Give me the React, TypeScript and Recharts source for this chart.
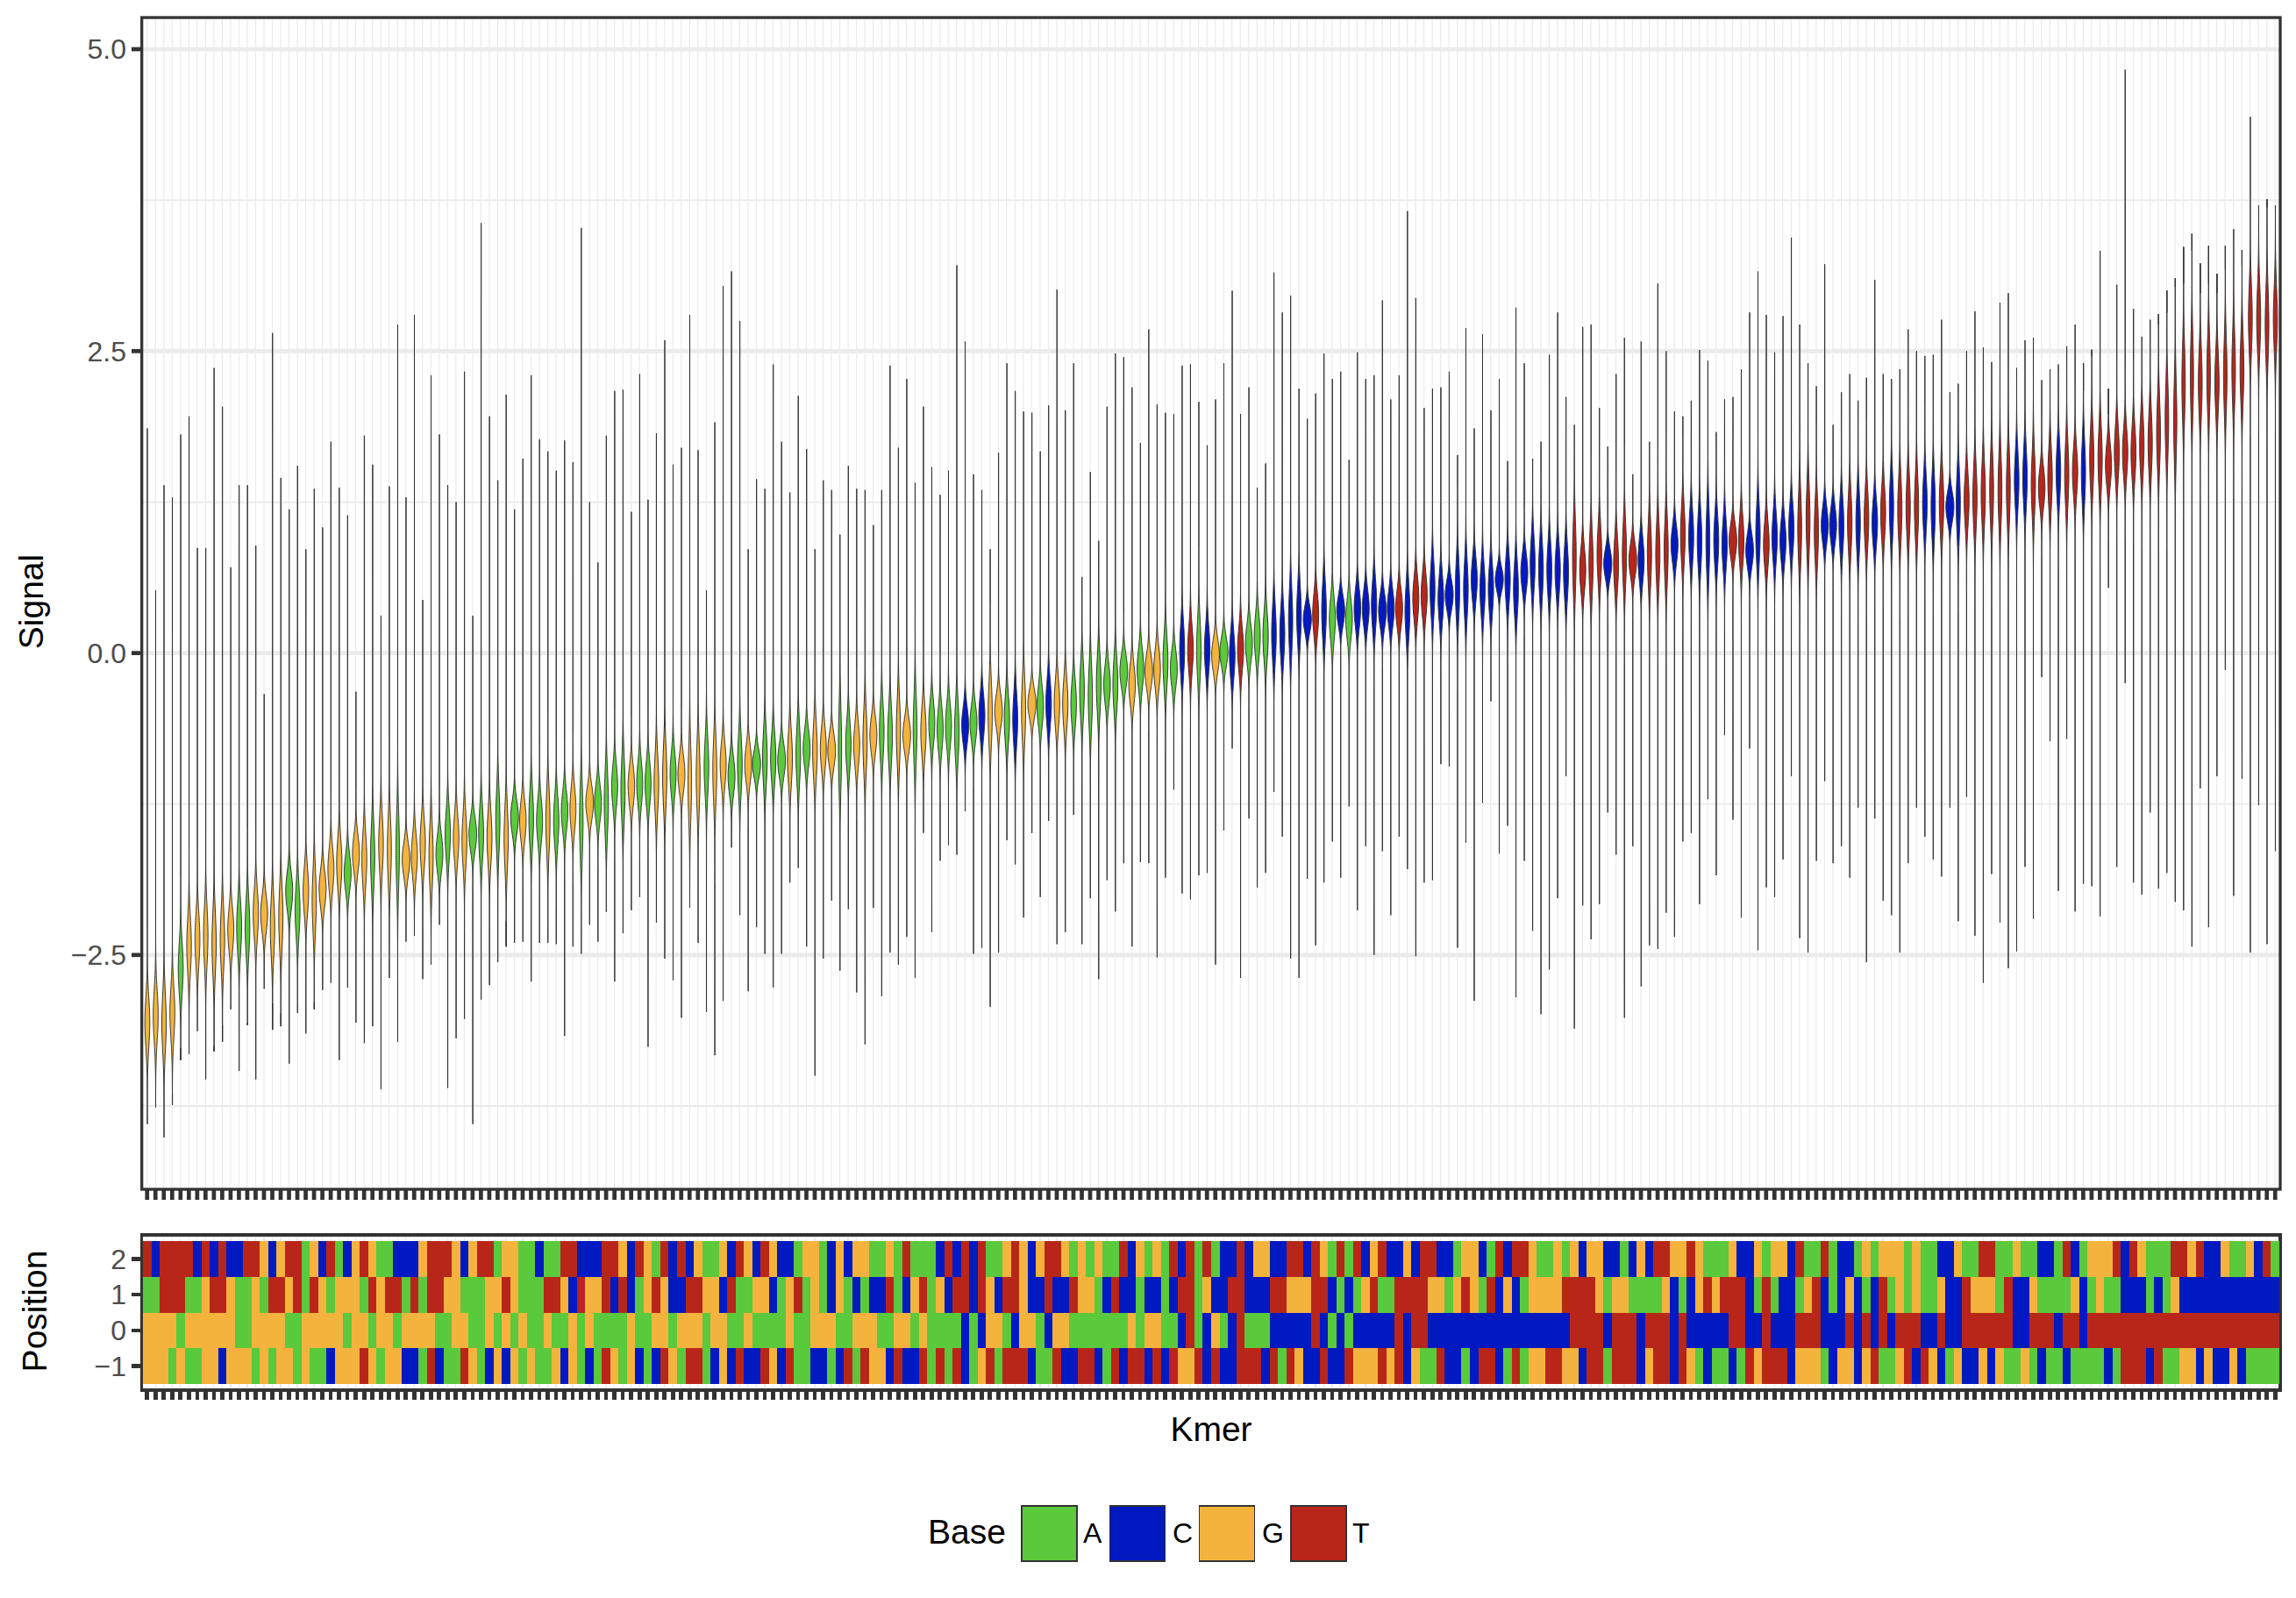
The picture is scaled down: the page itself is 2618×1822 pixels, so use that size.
import { ComposedChart, Bar, Cell, XAxis, YAxis, CartesianGrid } from 'recharts';

// base at each kmer for the four positions, grouped in runs to make them easier to read
const POS_2 = (
  'T C TTTT C T C T CC TT G C G TT A G C T A C G T G AA CCC G TTT G C G TT A GG AA C AA TT CCC TT G C T G ' +
  'A T C T C G AA G C T G C T G CC A GG A C G C GG AA G A T AAA C T C T C T AA G T G C G TT G A G A G AA T C G A G A T ' +
  'C T A T A CC T C GG CC TT C T G A T A T C G T CC G C TT CC A GG C A T C TT G AA G A G C GG CC A C G C TT GG T G AAA G ' +
  'CC G A GG C T AA T A CC A G A GGG A G AA CC G AA TT AA G AA CC A T C A GGG T C T G AAA TT G T CC G AA G C T A'
).replace(/ /g, '');
const POS_1 = (
  'AA TTT AA G TT G AA G A TT G T A T G A GGG A T G TT A T A TT GG AAA GG T G AAA TT G C T GG T C T C A G ' +
  'T G CC TT GG C T AA GG C A G T A G A C G A C A CC T A C G T A G C TT C T G C TT G CC T CC T GG A C T CC A CC A C ' +
  'TT A G CC TT CCC TT GGG TT C A C A G T AA TTTT GG A G T G A T C G C A GGGG TTTT G A GG AAAA G C A C G T G TT ' +
  'T C A T A CC A G T C A C G C A C T A G A G AA G CC T GGG A T CC G AAAA G C A G AA CCC A C A G CCCCCCCCCCCC'
).replace(/ /g, '');
const POS_0 = (
  'GGGG A GGGGGG AA GGGG AA GGGGG A GG A GG A GGGG AA GG AA G A G A G AA G AA G A G AAAA G AA ' +
  'GG A GGG A GG AA G AAAA G AA GGG AA GGG AA GG A G AAAA C A C GG A C GG A C GG AAAAAAA G A GG AA ' +
  'C T A C G A C T AAA CCCCC T C A C A CCCCC T C TT CCCCCCCCCCCCCCCCC TTTT C TTT C TTT C T CCCCC T ' +
  'T CC T CCC TTT CCC T C T C T C TTT CC T CC TTTTTT CC TTT C TT C ' +
  'TTTTTTTTTTTTTTTTTTTTTTT'
).replace(/ /g, '');
const POS_M1 = (
  'GGG A G AA GG C GGG A G A GG A G AA C GGG T G A GG CC A T C AA T G A C G C G A G AA G C G A C A T G A G C A ' +
  'C T G A TT A C G C T CC T G C T AA CC A C T A T GG C T CC T A T A T C A G T A TTT C AA T CC TT C A T C TT C T C T ' +
  'GG T C T CC TTT C T A T G CC T CC T GGG T G T C G AA T CC A C TT C A T A GG TT GG C TT A TTT C G TT C T G A C AA C ' +
  'A T G TTT C GGG A C GG C G T AA G T C T G C A G CC G C G AA G A C AA C AAAA C A TTT C T AA GG C G CC G C AAAA'
).replace(/ /g, '');

const SIGNAL_MAX = [
  1.86, 0.52, 1.39, 1.29, 1.81, 1.96, 0.87, 0.87, 2.36, 2.04,
  0.71, 1.39, 1.39, 0.89, -0.34, 2.65, 1.45, 1.19, 1.55, 0.86,
  1.36, 1.04, 1.75, 1.37, 1.14, -0.32, 1.80, 1.56, 0.31, 1.38,
  2.72, 1.29, 2.80, 0.44, 2.30, 1.81, 1.39, 1.25, 2.33, 0.31,
  3.56, 1.96, 1.43, 2.14, 1.19, 1.61, 2.30, 1.77, 1.67, 1.51,
  1.76, 1.58, 3.52, 1.25, 0.75, 1.80, 2.17, 2.18, 1.17, 2.31,
  1.27, 1.82, 2.59, 1.56, 1.70, 2.80, 1.68, 0.52, 1.91, 3.04,
  3.16, 2.75, 0.86, 1.44, 1.36, 2.39, 1.75, 1.33, 2.13, 1.69,
  0.86, 1.43, 1.35, 0.98, 1.55, 1.36, 1.35, 1.06, 1.35, 2.38,
  1.70, 2.27, 1.41, 2.04, 1.54, 1.31, 1.51, 3.21, 2.58, 1.48,
  1.35, 0.86, 1.66, 2.40, 2.17, 2.00, 1.99, 1.67, 2.05, 3.01,
  2.01, 2.40, 0.63, 1.50, 0.93, 2.04, 2.48, 2.45, 2.20, 1.74,
  2.68, 2.06, 1.99, 1.98, 2.38, 2.39, 2.08, 1.72, 2.10, 2.40,
  3.00, 1.98, 2.20, 1.37, 1.57, 3.15, 2.82, 2.96, 2.19, 1.94,
  2.15, 2.48, 2.27, 2.33, 1.60, 2.49, 2.27, 2.30, 2.92, 2.10,
  2.30, 3.66, 2.94, 2.03, 2.19, 2.20, 2.33, 1.64, 2.69, 1.86,
  2.64, 2.01, 2.27, 1.59, 2.86, 2.40, 1.61, 1.75, 2.47, 2.82,
  2.12, 1.89, 2.70, 2.72, 2.03, 1.71, 2.31, 2.61, 1.48, 2.58,
  1.75, 3.06, 2.50, 2.00, 1.96, 2.09, 2.51, 2.42, 1.83, 2.10,
  2.12, 2.35, 2.82, 3.16, 2.80, 2.49, 2.79, 3.44, 2.72, 2.40,
  2.21, 3.22, 1.89, 2.16, 2.31, 2.09, 2.28, 3.09, 2.31, 2.27,
  2.35, 2.68, 2.50, 2.46, 2.47, 2.76, 2.16, 2.23, 2.50, 2.83,
  2.53, 2.41, 2.90, 2.98, 2.36, 2.59, 2.61, 2.26, 2.35, 2.39,
  2.54, 2.72, 2.17, 2.46, 3.33, 1.98, 3.05, 4.83, 2.85, 2.62,
  2.76, 2.72, 2.82, 3.03, 3.06, 3.33, 2.98, 3.06, 2.98, 3.18,
  3.51, 3.20, 4.44, 3.70, 3.69, 3.66,
];

const SIGNAL_MIN = [
  -3.90, -3.74, -4.01, -3.65, -3.27, -3.32, -3.13, -3.53, -3.25, -3.08,
  -2.95, -3.46, -3.06, -3.53, -2.78, -2.90, -2.98, -3.40, -2.98, -3.15,
  -2.89, -2.79, -2.73, -3.37, -2.77, -3.06, -3.23, -3.09, -3.61, -2.69,
  -3.22, -2.39, -2.34, -2.70, -2.56, -2.25, -3.60, -3.19, -3.03, -3.90,
  -2.87, -2.75, -2.56, -2.22, -2.40, -2.39, -2.72, -2.40, -2.40, -2.41,
  -3.17, -2.43, -2.49, -2.25, -2.39, -2.13, -2.72, -2.32, -2.13, -2.02,
  -3.26, -2.23, -2.53, -2.71, -3.02, -2.10, -2.40, -2.97, -3.33, -2.88,
  -1.61, -2.17, -2.80, -2.27, -2.49, -2.77, -2.49, -1.90, -1.78, -2.43,
  -3.50, -2.53, -2.05, -2.63, -2.12, -2.81, -3.24, -2.11, -2.84, -2.48,
  -2.58, -2.35, -2.69, -1.49, -2.31, -1.72, -1.59, -1.67, -1.31, -2.49,
  -2.44, -2.93, -2.48, -1.55, -1.75, -2.19, -1.49, -2.02, -1.39, -2.41,
  -2.31, -1.34, -2.41, -2.03, -2.70, -1.88, -2.14, -1.74, -2.43, -1.73,
  -1.74, -2.52, -1.86, -1.13, -1.99, -2.04, -1.84, -1.82, -2.58, -1.47,
  -0.79, -2.69, -1.37, -1.94, -1.82, -1.15, -1.52, -2.53, -2.69, -1.87,
  -2.42, -1.90, -1.56, -1.86, -1.27, -2.13, -1.60, -2.50, -1.64, -2.17,
  -1.52, -1.79, -2.51, -1.90, -1.88, -0.92, -0.94, -2.44, -1.57, -2.88,
  -1.24, -0.40, -1.66, -1.43, -2.85, -1.72, -2.30, -2.99, -2.62, -2.03,
  -1.02, -3.11, -2.09, -2.37, -2.08, -1.32, -1.67, -3.02, -1.60, -2.76,
  -2.42, -2.45, -2.15, -2.35, -1.56, -1.49, -2.08, -1.21, -1.84, -0.68,
  -1.38, -2.19, -0.79, -2.46, -1.94, -2.02, -1.71, -1.02, -2.36, -2.48,
  -1.72, -1.06, -1.74, -1.60, -1.86, -1.28, -2.56, -1.37, -2.05, -2.17,
  -2.48, -1.74, -1.28, -1.52, -1.71, -1.85, -1.28, -2.22, -1.19, -2.34,
  -2.73, -1.83, -2.23, -2.61, -2.47, -1.77, -2.20, -0.20, -0.73, -1.97,
  -0.71, -2.14, -1.91, -1.93, -2.18, 0.54, -1.77, -0.25, -1.90, -2.00,
  -1.32, -1.95, -1.82, -2.06, -2.13, -2.43, -1.12, -2.27, -1.02, -0.14,
  -2.01, -1.04, -2.48, -1.26, -2.41, -1.64,
];

const SIGNAL_MID = [
  -3.06, -3.00, -3.06, -2.98, -2.61, -2.42, -2.37, -2.34, -2.40, -2.37,
  -2.29, -2.27, -2.27, -2.16, -2.16, -2.27, -2.19, -1.97, -2.13, -1.97,
  -2.05, -1.95, -1.79, -1.74, -1.82, -1.66, -1.71, -1.68, -1.58, -1.63,
  -1.63, -1.71, -1.68, -1.58, -1.68, -1.66, -1.50, -1.53, -1.55, -1.50,
  -1.50, -1.53, -1.39, -1.53, -1.36, -1.39, -1.37, -1.39, -1.39, -1.39,
  -1.31, -1.29, -1.39, -1.24, -1.24, -1.24, -1.10, -1.13, -1.10, -1.08,
  -1.08, -1.08, -1.02, -1.00, -1.00, -1.08, -1.02, -0.94, -0.97, -0.92,
  -1.02, -0.92, -0.92, -0.92, -0.87, -0.87, -0.89, -0.87, -0.84, -0.79,
  -0.81, -0.79, -0.81, -0.79, -0.76, -0.76, -0.73, -0.68, -0.65, -0.68,
  -0.65, -0.68, -0.63, -0.65, -0.58, -0.63, -0.60, -0.65, -0.60, -0.58,
  -0.52, -0.50, -0.48, -0.55, -0.55, -0.47, -0.42, -0.44, -0.42, -0.42,
  -0.42, -0.42, -0.31, -0.36, -0.26, -0.26, -0.26, -0.15, -0.26, -0.13,
  -0.15, -0.13, -0.07, -0.13, 0.03, 0.03, 0.03, 0.03, -0.02, 0.01,
  -0.02, 0.03, 0.08, 0.14, 0.14, 0.16, 0.16, 0.27, 0.32, 0.28,
  0.32, 0.35, 0.28, 0.35, 0.28, 0.37, 0.37, 0.40, 0.35, 0.37,
  0.37, 0.35, 0.45, 0.48, 0.53, 0.45, 0.48, 0.53, 0.53, 0.61,
  0.53, 0.53, 0.61, 0.61, 0.53, 0.67, 0.74, 0.69, 0.69, 0.69,
  0.67, 0.80, 0.69, 0.74, 0.82, 0.74, 0.74, 0.82, 0.77, 0.77,
  0.82, 0.82, 0.85, 0.90, 0.98, 0.96, 0.93, 0.93, 0.93, 0.90,
  0.93, 0.93, 0.85, 0.98, 0.90, 0.96, 0.93, 1.03, 1.03, 1.11,
  1.01, 1.06, 1.06, 1.06, 1.08, 1.08, 1.11, 1.08, 1.16, 1.21,
  1.19, 1.21, 1.21, 1.24, 1.21, 1.24, 1.21, 1.24, 1.27, 1.29,
  1.32, 1.35, 1.35, 1.37, 1.43, 1.45, 1.40, 1.37, 1.45, 1.50,
  1.48, 1.50, 1.50, 1.61, 1.61, 1.56, 1.66, 1.66, 1.66, 1.72,
  1.74, 1.82, 1.93, 1.93, 2.24, 2.30, 2.24, 2.30, 2.24, 2.30,
  2.35, 2.35, 2.77, 2.77, 2.72, 2.77,
];

// half height of the visible violin body
const BODY_SPREAD = [
  .45, .45, .50, .45, .45, .48, .45, .50, .53, .50,
  .37, .45, .48, .42, .32, .50, .53, .32, .45, .40,
  .53, .32, .37, .42, .32, .32, .45, .53, .48, .55,
  .63, .29, .37, .42, .53, .32, .42, .40, .45, .29,
  .45, .45, .53, .53, .29, .34, .48, .37, .53, .42,
  .34, .37, .63, .29, .32, .53, .37, .53, .34, .37,
  .37, .48, .53, .37, .32, .61, .58, .48, .55, .37,
  .32, .48, .32, .24, .48, .42, .29, .45, .48, .32,
  .48, .37, .29, .69, .42, .37, .53, .32, .48, .48,
  .53, .29, .58, .42, .37, .37, .37, .48, .32, .32,
  .37, .53, .29, .42, .45, .53, .26, .34, .40, .40,
  .42, .40, .48, .53, .48, .34, .45, .29, .34, .34,
  .29, .34, .45, .32, .45, .40, .50, .40, .29, .26,
  .40, .37, .32, .37, .42, .48, .45, .53, .48, .24,
  .37, .48, .37, .26, .34, .34, .32, .42, .29, .32,
  .32, .45, .37, .37, .45, .40, .26, .50, .48, .37,
  .42, .42, .21, .42, .45, .32, .45, .48, .45, .42,
  .45, .61, .37, .53, .48, .26, .45, .53, .29, .37,
  .53, .53, .55, .32, .48, .45, .48, .58, .45, .42,
  .29, .42, .29, .50, .40, .42, .37, .42, .58, .58,
  .53, .32, .32, .45, .50, .50, .48, .40, .45, .53,
  .53, .53, .53, .48, .53, .50, .26, .53, .45, .53,
  .53, .58, .58, .58, .48, .50, .53, .34, .50, .48,
  .53, .42, .53, .53, .53, .37, .45, .42, .45, .50,
  .53, .58, .63, .69, .66, .69, .58, .63, .53, .63,
  .63, .58, .58, .55, .61, .55,
];

const POSITION_LABELS = ['\u22121', '0', '1', '2'];
const BASES = ['A', 'C', 'G', 'T'];
const BASE_COLORS: Record<string, string> = { A: '#5AC93B', C: '#0019C1', G: '#F3B33D', T: '#B8261A' };

const SIGNAL_TICKS = [-2.5, 0, 2.5, 5];
const SIGNAL_MINOR = [-3.75, -1.25, 1.25, 3.75];
const POSITION_TICKS = [0.5, 1.5, 2.5, 3.5];

const FONT = '"Liberation Sans", Arial, sans-serif';
const INK = '#333333';
const GRID = '#ebebeb';

const violinData = SIGNAL_MID.map((mid, i) => ({
  kmer: i,
  range: [SIGNAL_MIN[i], SIGNAL_MAX[i]],
  mid,
  spread: BODY_SPREAD[i],
  base: POS_0[i],
}));

const tileData = SIGNAL_MID.map((_, i) => ({ kmer: i, m1: 1, p0: 1, p1: 1, p2: 1 }));

// violin outline: thin tails, bell shaped body, narrower when the body is taller
function Violin(props: any) {
  const { x, y, width, height, payload } = props;
  const top = Math.min(y, y + height);
  const h = Math.abs(height);
  const [lo, hi] = payload.range;
  const perUnit = h / (hi - lo);
  const cx = x + width / 2;
  const cy = top + (hi - payload.mid) * perUnit;
  const len = payload.spread * perUnit;
  const sigma = len * 0.46;
  const half = Math.min(175 / len, 4.6);

  const left: string[] = [];
  const right: string[] = [];
  for (let py = cy - len * 1.7; py <= cy + len * 1.7; py += 2) {
    const w = half * Math.exp(-0.5 * ((py - cy) / sigma) ** 2);
    left.push(`L${(cx - w).toFixed(2)} ${py.toFixed(1)}`);
    right.unshift(`L${(cx + w).toFixed(2)} ${py.toFixed(1)}`);
  }
  const d = `M${cx} ${top}${left.join('')}L${cx} ${top + h}${right.join('')}Z`;
  return <path d={d} fill={BASE_COLORS[payload.base]} stroke={INK} strokeWidth={1} strokeLinejoin="round" />;
}

const NoLabel = () => <g />;

const formatSignal = (v: number) => (v < 0 ? '\u2212' : '') + Math.abs(v).toFixed(1);
const formatPosition = (v: number) => POSITION_LABELS[POSITION_TICKS.indexOf(v)];

const tickText = { fill: '#4d4d4d', fontSize: 32, fontFamily: FONT };
const titleText = { fill: '#000', fontSize: 39, fontFamily: FONT };

export default function App() {
  return (
    <div style={{ position: 'absolute', left: 0, top: 0, width: 2618, height: 1822, background: '#fff', overflow: 'hidden' }}>
      <div style={{ position: 'absolute', left: 0, top: 0 }}>
        <ComposedChart
          width={2618}
          height={1400}
          data={violinData}
          margin={{ top: 20, right: 18, bottom: 0, left: 0 }}
          barCategoryGap={0}
          barGap={0}
        >
          <CartesianGrid horizontal={false} stroke={GRID} strokeWidth={1.2} />
          <CartesianGrid vertical={false} horizontalValues={SIGNAL_MINOR} stroke={GRID} strokeWidth={2} />
          <CartesianGrid vertical={false} horizontalValues={SIGNAL_TICKS} stroke={GRID} strokeWidth={4.6} />
          <XAxis
            dataKey="kmer"
            interval={0}
            height={44}
            padding={{ left: 1, right: 1 }}
            tick={NoLabel}
            axisLine={false}
            tickSize={12}
            tickLine={{ stroke: INK, strokeWidth: 4.7 }}
          />
          <YAxis
            type="number"
            width={162}
            domain={[-4.44, 5.262]}
            ticks={SIGNAL_TICKS}
            interval={0}
            tickFormatter={formatSignal}
            tick={tickText}
            tickSize={12}
            tickMargin={6}
            axisLine={false}
            tickLine={{ stroke: INK, strokeWidth: 4.7 }}
          />
          <Bar dataKey="range" shape={Violin} isAnimationActive={false} />
          <rect x={161.7} y={20} width={2438.3} height={1336} fill="none" stroke={INK} strokeWidth={3.3} />
          <text x={35} y={686} transform="rotate(-90 35 686)" textAnchor="middle" dominantBaseline="central" {...titleText}>
            Signal
          </text>
        </ComposedChart>
      </div>

      <div style={{ position: 'absolute', left: 0, top: 1400 }}>
        <ComposedChart
          width={2618}
          height={422}
          data={tileData}
          margin={{ top: 9, right: 18, bottom: 0, left: 0 }}
          barCategoryGap={0}
          barGap={0}
          style={{ shapeRendering: 'crispEdges' }}
        >
          <CartesianGrid horizontal={false} stroke={GRID} strokeWidth={1.2} />
          <XAxis
            dataKey="kmer"
            interval={0}
            height={238}
            padding={{ left: 1, right: 1 }}
            tick={NoLabel}
            axisLine={false}
            tickSize={12}
            tickLine={{ stroke: INK, strokeWidth: 4.7 }}
          />
          <YAxis
            type="number"
            width={162}
            domain={[-0.147, 4.147]}
            ticks={POSITION_TICKS}
            interval={0}
            tickFormatter={formatPosition}
            tick={tickText}
            tickSize={12}
            tickMargin={6}
            axisLine={false}
            tickLine={{ stroke: INK, strokeWidth: 4.7 }}
          />
          {[POS_M1, POS_0, POS_1, POS_2].map((row, r) => (
            <Bar key={r} dataKey={['m1', 'p0', 'p1', 'p2'][r]} stackId="position" isAnimationActive={false}>
              {tileData.map((_, i) => (
                <Cell key={i} fill={BASE_COLORS[row[i]]} />
              ))}
            </Bar>
          ))}
          <rect x={161.7} y={8} width={2438.3} height={177} fill="none" stroke={INK} strokeWidth={3.3} />
          <text x={39} y={95} transform="rotate(-90 39 95)" textAnchor="middle" dominantBaseline="central" {...titleText}>
            Position
          </text>
          <text x={1381} y={229} textAnchor="middle" dominantBaseline="central" {...titleText}>
            Kmer
          </text>
          <text x={1058} y={346} dominantBaseline="central" {...titleText}>
            Base
          </text>
          {BASES.map((base, i) => (
            <g key={base}>
              <rect x={[1165, 1265.5, 1367.5, 1472][i]} y={317} width={63} height={63} fill={BASE_COLORS[base]} stroke={INK} strokeWidth={1.2} />
              <text x={[1235, 1337, 1439, 1542][i]} y={348} dominantBaseline="central" fill="#000" fontSize={32} fontFamily={FONT}>
                {base}
              </text>
            </g>
          ))}
        </ComposedChart>
      </div>
    </div>
  );
}
